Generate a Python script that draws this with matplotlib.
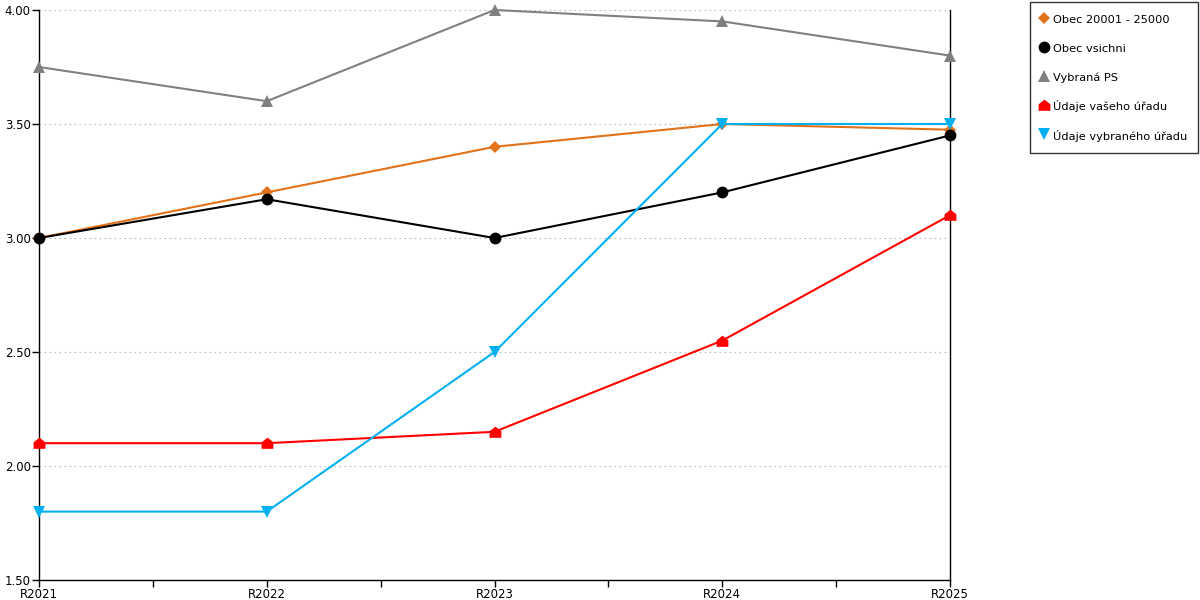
import matplotlib
matplotlib.use('Agg')
import matplotlib.pyplot as plt
from matplotlib.path import Path
from matplotlib.lines import Line2D
from matplotlib.ticker import FormatStrFormatter

years = ['R2021', 'R2022', 'R2023', 'R2024', 'R2025']

obec_20001 = [3.00, 3.20, 3.40, 3.50, 3.475]
obec_vsichni = [3.00, 3.17, 3.00, 3.20, 3.45]
vybrana_ps = [3.75, 3.60, 4.00, 3.95, 3.80]
vas_urad = [2.10, 2.10, 2.15, 2.55, 3.10]
vybrany_urad = [1.80, 1.80, 2.50, 3.50, 3.50]

# domecek - marker pro "Údaje vašeho úřadu"
house = Path([(-1, -0.9), (1, -0.9), (1, 0.2), (0, 1), (-1, 0.2), (-1, -0.9)],
             [Path.MOVETO, Path.LINETO, Path.LINETO, Path.LINETO, Path.LINETO, Path.CLOSEPOLY])

series = [
    ('Obec 20001 - 25000', obec_20001, '#E2721A', 'D', 6.5),
    ('Obec vsichni', obec_vsichni, '#000000', 'o', 8.5),
    ('Vybraná PS', vybrana_ps, '#808080', '^', 8.5),
    ('Údaje vašeho úřadu', vas_urad, '#FF0000', house, 8.5),
    ('Údaje vybraného úřadu', vybrany_urad, '#00B0F0', 'v', 8.5),
]

plt.rcParams['font.family'] = ['DejaVu Sans']

fig = plt.figure(figsize=(12, 6), dpi=100)
ax = fig.add_axes([39 / 1200, 20 / 600, 911 / 1200, 570 / 600])

x = list(range(len(years)))
handles = []
for name, vals, col, mk, ms in series:
    ax.plot(x, vals, color=col, linewidth=1.5, marker=mk, markersize=ms,
            markeredgewidth=0, zorder=3, clip_on=False)
    handles.append(Line2D([], [], color=col, marker=mk, linestyle='none',
                          markersize=ms, markeredgewidth=0))

ax.set_xlim(0, 4)
ax.set_ylim(1.5, 4.0)
ax.set_xticks(x)
ax.set_xticklabels(years)
ax.set_xticks([0.5, 1.5, 2.5, 3.5], minor=True)
ax.set_yticks([1.5, 2.0, 2.5, 3.0, 3.5, 4.0])
ax.yaxis.set_major_formatter(FormatStrFormatter('%.2f'))
ax.tick_params(axis='both', which='both', direction='out', length=5, width=1,
               labelsize=8.5, pad=1)
ax.yaxis.grid(True, linestyle=(0, (1.5, 3)), color='#bbbbbb', linewidth=0.8)
ax.set_axisbelow(True)
ax.spines['top'].set_visible(False)
for s in ['left', 'right', 'bottom']:
    ax.spines[s].set_color('black')
    ax.spines[s].set_linewidth(1)

leg = fig.legend(handles, [s[0] for s in series], loc='upper right',
                 bbox_to_anchor=(1198 / 1200, 598 / 600), fontsize=8.2,
                 frameon=True, fancybox=False, handlelength=0.6,
                 handleheight=1.4, handletextpad=0.45, labelspacing=1.4,
                 borderpad=0.95, borderaxespad=0)
leg.get_frame().set_edgecolor('black')
leg.get_frame().set_linewidth(1)

fig.savefig('out.png', dpi=100)
